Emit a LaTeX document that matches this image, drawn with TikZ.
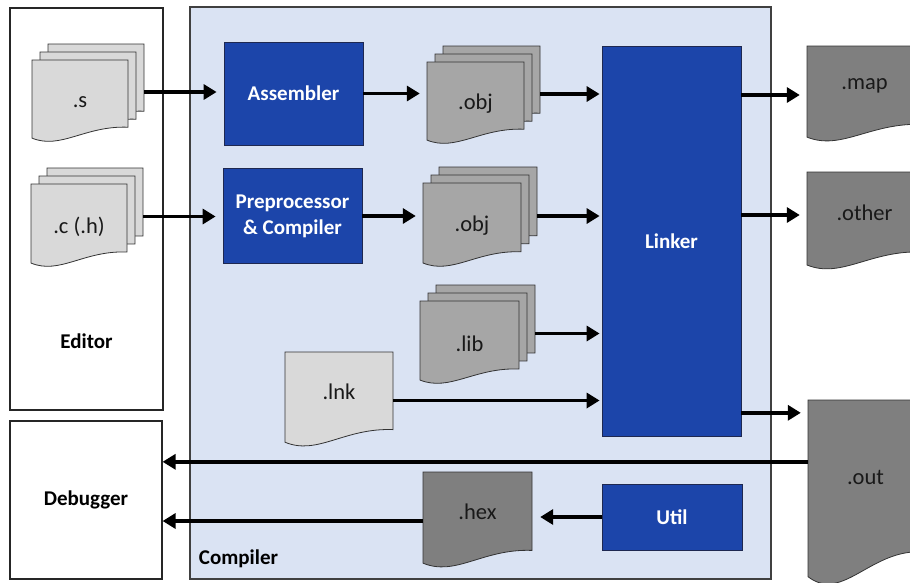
\documentclass[tikz,border=0pt]{standalone}
\usepackage{fontspec}
\setmainfont{Carlito}
\usetikzlibrary{arrows.meta,positioning}

\definecolor{compbg}{RGB}{218,227,243}
\definecolor{toolblue}{RGB}{28,69,170}
\definecolor{toolline}{RGB}{30,40,80}
\definecolor{srcgray}{RGB}{217,217,217}
\definecolor{objgray}{RGB}{166,166,166}
\definecolor{outgray}{RGB}{127,127,127}

\tikzset{
  sheet/.style={draw=black!80, line width=0.8pt},
  docnode/.style={inner sep=0pt, draw=none, text=black!90, font=\fontsize{22.5}{27}\selectfont},
  tool/.style={draw=toolline, fill=toolblue, line width=0.8pt, text=white, align=center, inner sep=0pt, font=\bfseries\fontsize{21}{26}\selectfont},
  frame/.style={draw=black!85, line width=1.2pt, inner sep=0pt},
  lbl/.style={font=\bfseries\fontsize{21}{26}\selectfont},
  arr/.style={line width=3.5pt, -{Triangle[length=13pt,width=15pt]}, shorten >=7pt},
}

% one sheet with a wavy bottom: x, y, width, height, fill
\newcommand{\docsheet}[5]{%
  \draw[sheet, fill=#5] (#1,#2) -- ({#1+#3},#2) -- ({#1+#3},{#2+0.80*#4})
    .. controls ({#1+0.55*#3},{#2+0.78*#4}) and ({#1+0.30*#3},{#2+1.07*#4}) .. (#1,{#2+0.93*#4}) -- cycle;}
% three sheets: name, x, y, width, height, fill, text
\newcommand{\docstack}[7]{%
  \foreach \off in {16,8}{\docsheet{#2+\off}{#3-\off}{#4}{#5}{#6}}
  \docsheet{#2}{#3}{#4}{#5}{#6}
  \node[docnode, minimum width=#4pt, minimum height=#5pt] (#1) at ({#2+0.5*#4},{#3+0.5*#5}) {#7};
  \coordinate (#1-out) at ([shift={(16,-10)}]#1.east);}
% single sheet: name, x, y, width, height, fill, text
\newcommand{\docfile}[7]{%
  \docsheet{#2}{#3}{#4}{#5}{#6}
  \node[docnode, minimum width=#4pt, minimum height=#5pt,
    label={[docnode, yshift={0.09*#5pt}]center:#7}] (#1) at ({#2+0.5*#4},{#3+0.5*#5}) {};}

\begin{document}
\begin{tikzpicture}[x=1pt,y=-1pt]
\useasboundingbox (0,0) rectangle (910,582);
\clip (0,0) rectangle (910,582);

% Frames
\node[frame, fill=compbg, draw=black!75, minimum width=581pt, minimum height=572pt,
  label={[lbl, above right=8pt and 6pt]south west:Compiler}] (compiler) at (480.5,293) {};
\node[frame, minimum width=153pt, minimum height=402pt,
  label={[lbl, above=58pt]south:Editor}] (editor) at (86.5,209) {};
\node[frame, lbl, minimum width=152pt, minimum height=158pt] (debugger) at (86,500) {Debugger};

% Files
\docstack{s}{32}{60}{96}{84}{srcgray}{.s}
\docstack{c}{31}{184}{96}{85}{srcgray}{.c (.h)}
\docstack{obj1}{427}{62}{97}{84}{objgray}{.obj}
\docstack{obj2}{423}{183}{98}{86}{objgray}{.obj}
\docstack{lib}{420}{301}{99}{85}{objgray}{.lib}
\docfile{lnk}{285}{352}{108}{97}{srcgray}{.lnk}
\docfile{hex}{423}{472}{109}{98}{outgray}{.hex}
\docfile{map}{807}{46}{115}{98}{outgray}{.map}
\docfile{other}{807}{172}{115}{100}{outgray}{.other}
\docfile{out}{808}{400}{115}{190}{outgray}{.out}

% Tools
\node[tool, minimum width=139pt, minimum height=103pt] (asm) at (293.5,93.5) {Assembler};
\node[tool, minimum width=139pt, minimum height=95pt] (pre) at (292.5,216) {Preprocessor\\\& Compiler};
\node[tool, minimum width=139pt, minimum height=390pt] (linker) at (671.5,241) {Linker};
\node[tool, minimum width=140pt, minimum height=66pt] (util) at (672,517) {Util};

% Arrows
\draw[arr] (s-out) -- (s-out -| asm.west);
\draw[arr] (c-out) -- (c-out -| pre.west);
\draw[arr] (asm.east) -- (asm.east -| obj1.west);
\draw[arr] (pre.east) -- (pre.east -| obj2.west);
\draw[arr, shorten >=2pt] (obj1-out) -- (obj1-out -| linker.west);
\draw[arr, shorten >=2pt] (obj2-out) -- (obj2-out -| linker.west);
\draw[arr, shorten >=2pt] (lib-out) -- (lib-out -| linker.west);
\draw[arr, shorten >=2pt] (lnk.east) -- (lnk.east -| linker.west);
\draw[arr] (linker.east |- map.west) -- (map.west);
\coordinate (other-in) at ([yshift=7pt]other.west);
\draw[arr] (linker.east |- other-in) -- (other-in);
\coordinate (out-in) at ([yshift=-13pt]out.north west);
\draw[arr] (linker.east |- out-in) -- (out-in);
\coordinate (out-tap) at ([yshift=-62pt]out.north west);
\draw[arr, shorten >=0pt] (out-tap) -- (out-tap -| debugger.east);
\draw[arr, shorten >=8pt] (util.west) -- (util.west -| hex.east);
\draw[arr, shorten >=0pt] (hex.west) -- (hex.west -| debugger.east);

\end{tikzpicture}
\end{document}
